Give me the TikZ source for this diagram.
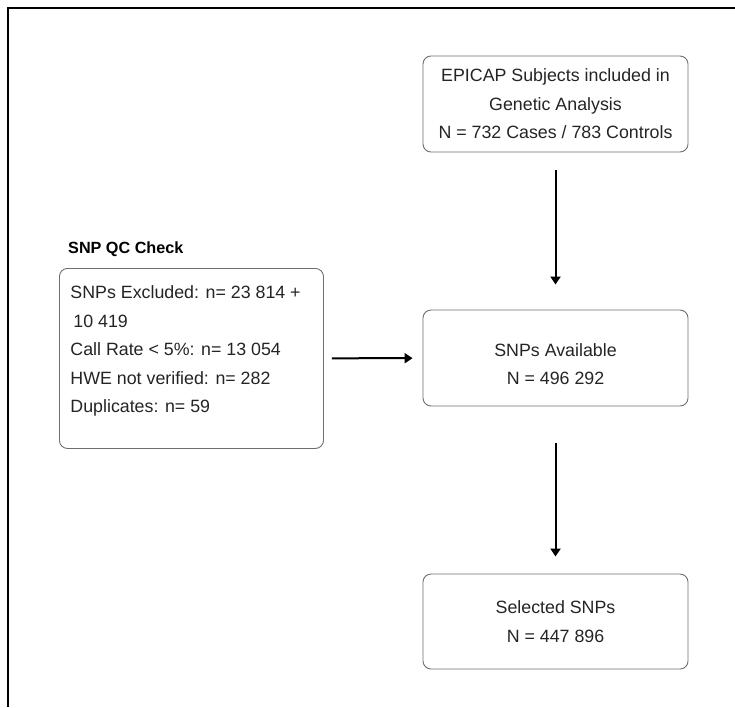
\documentclass[tikz,border=0pt]{standalone}
\usepackage{fontspec}
\setmainfont{Liberation Sans}
\usetikzlibrary{positioning,arrows.meta}
\definecolor{boxgray}{HTML}{6E6E6E}
\definecolor{txtgray}{HTML}{242424}

\begin{document}
\begin{tikzpicture}[
	%	style def
    x=1pt, y=-1pt,
    frame line/.style={line width=2pt},
    flow line/.style={line width=2pt, -{Triangle[length=8pt,width=10pt]}},
    box/.style={draw=boxgray, line width=0.9pt, rounded corners=8pt, text=txtgray,
                minimum width=265pt, minimum height=96pt, inner sep=0pt,
                align=center, font=\fontsize{17.8}{28.5}\selectfont}
    ]
    \useasboundingbox (0,0) rectangle (735,707);

	% outer frame (only top and left edges)
	\draw[frame line] (735,8) -- (8,8) -- (8,707);

	% main column
	\node[box] (epicap) at (555.5,104) {EPICAP Subjects included in\\Genetic Analysis\\N = 732 Cases / 783 Controls};
	\node[box] (avail) at (555.5,358) {\rule{0pt}{25pt}SNPs Available\\N = 496 292};
	\node[box, minimum height=95pt] (selected) at (555.5,621.5) {Selected SNPs\\N = 447 896};

	% QC check box on the left
	\node[anchor=west, inner sep=0pt, font=\fontsize{16.2}{18}\selectfont\bfseries] (qctitle) at (68,249) {SNP QC Check};
	\node[box, anchor=north west, minimum width=264pt, minimum height=180pt,
	      inner xsep=11pt, inner ysep=17.5pt, align=left] (qc) at (59,268)
	      {\parbox[c][145pt][t]{242pt}{\raggedright
	       SNPs Excluded: n= 23 814 +\\
	       \hspace*{3pt}10 419\\
	       Call Rate < 5\%: n= 13 054\\
	       HWE not verified: n= 282\\
	       Duplicates: n= 59}};

	% connections
	\draw[flow line, shorten <=18pt, shorten >=25pt] (epicap) -- (avail);
	\draw[flow line, shorten <=8pt, shorten >=10pt] (qc) -- (avail);
	\draw[flow line, shorten <=37pt, shorten >=17pt] (avail) -- (selected);
\end{tikzpicture}
\end{document}
